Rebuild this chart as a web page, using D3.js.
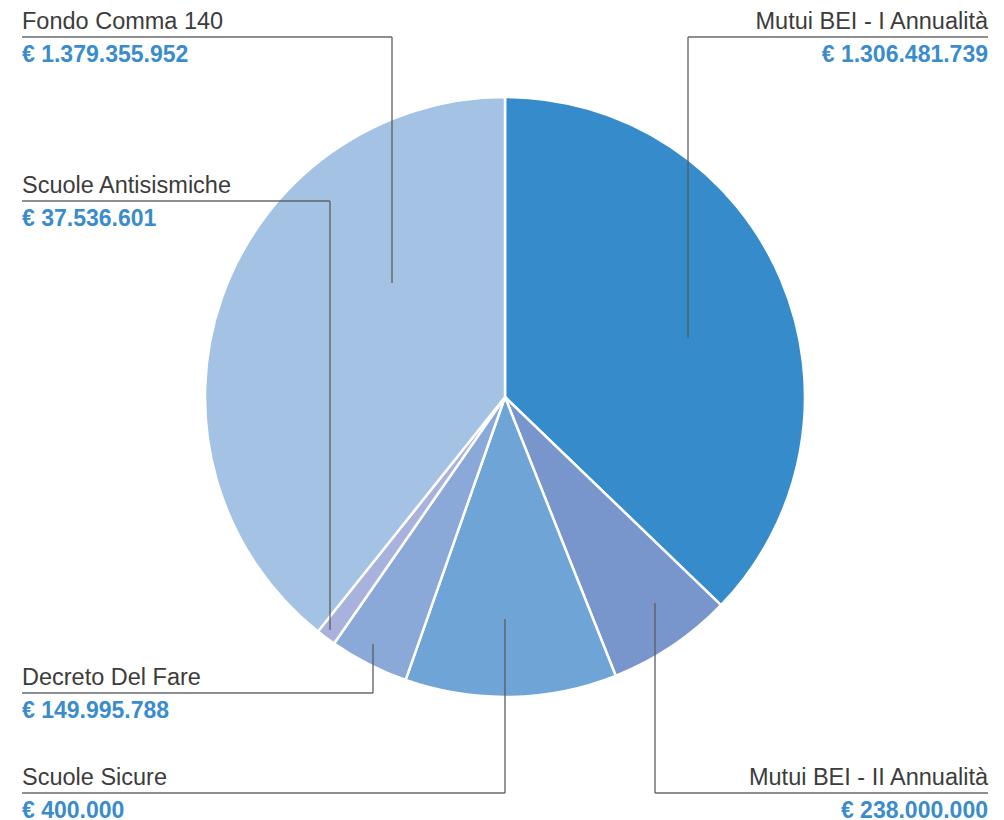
<!DOCTYPE html>
<html><head><meta charset="utf-8">
<script src="https://cdn.jsdelivr.net/npm/d3@7"></script>
<style>
html,body{margin:0;padding:0;background:#fff;}
svg{display:block;}
</style></head>
<body><svg id="chart" width="1004" height="820"></svg>
<script>
// ---- data ----
const categories = ["Mutui BEI - I Annualità","Mutui BEI - II Annualità","Scuole Sicure","Decreto Del Fare","Scuole Antisismiche","Fondo Comma 140"];
const values = [1306481739, 238000000, 400000000, 149995788, 37536601, 1379355952];
const valueLabels = ["€ 1.306.481.739","€ 238.000.000","€ 400.000","€ 149.995.788","€ 37.536.601","€ 1.379.355.952"];
const colors = ["#368ccb","#7896cb","#6fa4d6","#8aa9d8","#a8b2dd","#a3c2e4"];

// ---- layout ----
const W = 1004, H = 820;
const cx = 505, cy = 397, R = 300;
// label placement: side, underline y, underline extent, anchor point inside slice
const labelLayout = [
  {side:"right", y:37,  x0:688, x1:988, ax:688, ay:338},
  {side:"right", y:793, x0:655, x1:988, ax:655, ay:603},
  {side:"left",  y:793, x0:22,  x1:505, ax:505, ay:619},
  {side:"left",  y:693, x0:22,  x1:373, ax:373, ay:644},
  {side:"left",  y:201, x0:22,  x1:330, ax:330, ay:630},
  {side:"left",  y:37,  x0:22,  x1:392, ax:392, ay:283}
];

const svg = d3.select("#chart");
const pie = d3.pie().sort(null).value(d => d)(values);
const arc = d3.arc().innerRadius(0).outerRadius(R);

const g = svg.append("g").attr("transform", `translate(${cx},${cy})`);
g.selectAll("path").data(pie).join("path")
  .attr("d", arc)
  .attr("fill", (d,i) => colors[i])
  .attr("stroke", "#fff")
  .attr("stroke-width", 2.5)
  .attr("stroke-linejoin", "round");

const lab = svg.append("g");
categories.forEach((c,i) => {
  const L = labelLayout[i];
  const xv = L.side === "left" ? L.x1 : L.x0;
  lab.append("path")
    .attr("d", `M${L.x0},${L.y}H${L.x1}M${xv},${L.y}V${L.ay}`)
    .attr("fill","none").attr("stroke","#5a5a5a").attr("stroke-width",1.4).attr("stroke-opacity",0.9);
  const tx = L.side === "left" ? L.x0 : L.x1;
  const anchor = L.side === "left" ? "start" : "end";
  lab.append("text").attr("x", tx).attr("y", L.y - 8)
    .attr("text-anchor", anchor)
    .attr("font-family","'Liberation Sans', Arial, Helvetica, sans-serif")
    .attr("font-size", 23.5).attr("fill","#3c3c3c").text(c);
  lab.append("text").attr("x", tx).attr("y", L.y + 25)
    .attr("text-anchor", anchor)
    .attr("font-family","'Liberation Sans', Arial, Helvetica, sans-serif")
    .attr("font-weight","bold")
    .attr("font-size", 23).attr("fill","#3a8ccc").text(valueLabels[i]);
});
</script></body></html>
